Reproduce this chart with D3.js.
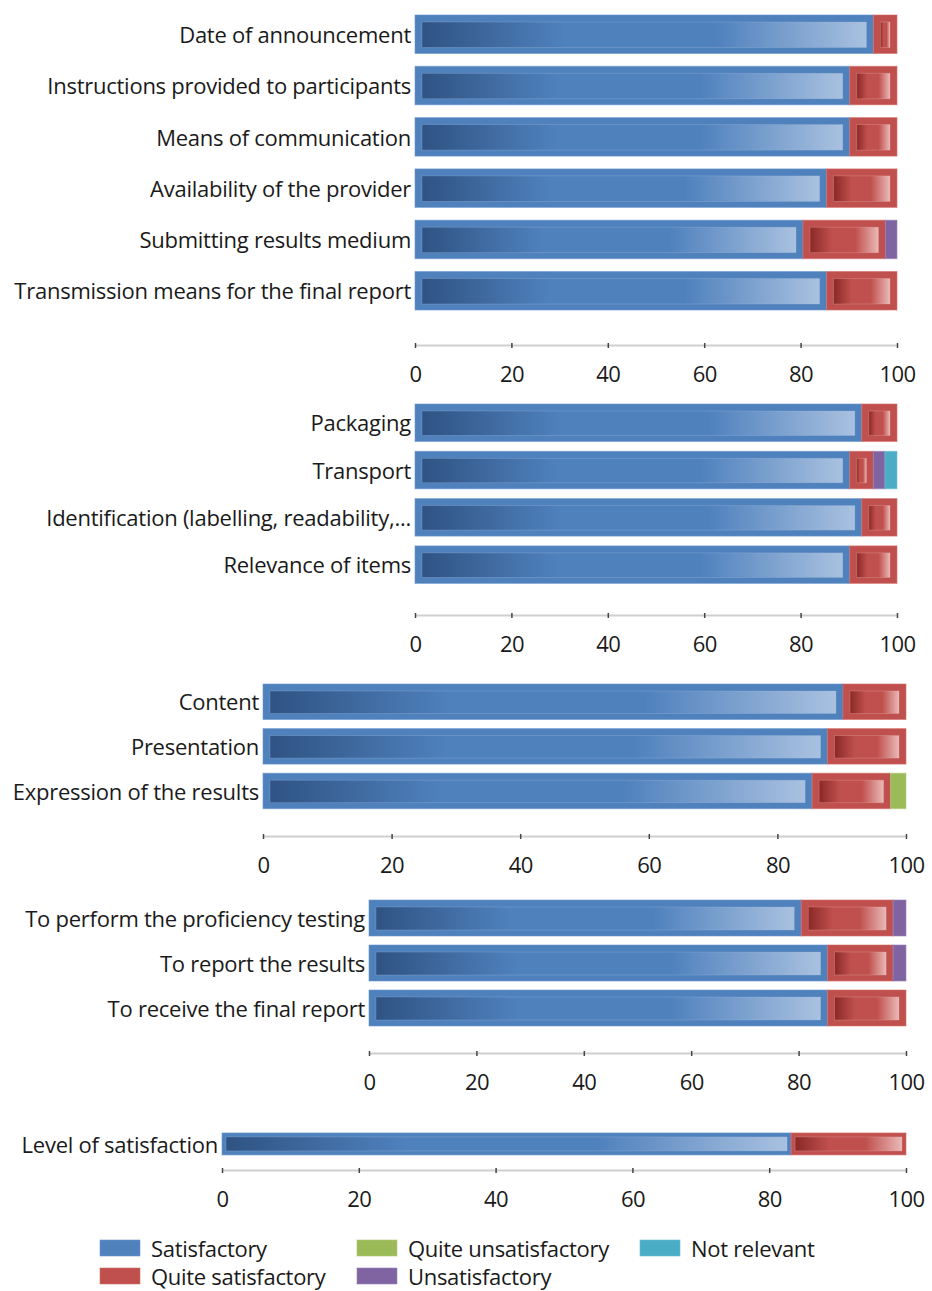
<!DOCTYPE html>
<html>
<head>
<meta charset="utf-8">
<script src="https://cdn.jsdelivr.net/npm/d3@7"></script>
<style>
  html, body { margin: 0; padding: 0; background: #ffffff; }
  svg { display: block; }
  text { font-family: "Open Sans", "Noto Sans", sans-serif; fill: #1a1a1a; }
</style>
</head>
<body>
<svg id="chart" width="932" height="1291"></svg>
<script>
// Response categories, in stacking order
const seriesNames = ["Satisfactory", "Quite satisfactory", "Quite unsatisfactory", "Unsatisfactory", "Not relevant"];
const seriesKeys = ["sat", "qsat", "qunsat", "unsat", "nr"];

// Each row: [Satisfactory, Quite satisfactory, Quite unsatisfactory, Unsatisfactory, Not relevant] in %
const organisationCategories = [
  "Date of announcement",
  "Instructions provided to participants",
  "Means of communication",
  "Availability of the provider",
  "Submitting results medium",
  "Transmission means for the final report"
];
const organisationValues = [
  [95.1, 4.9, 0, 0, 0],
  [90.2, 9.8, 0, 0, 0],
  [90.2, 9.8, 0, 0, 0],
  [85.4, 14.6, 0, 0, 0],
  [80.5, 17.1, 0, 2.4, 0],
  [85.4, 14.6, 0, 0, 0]
];

const itemsCategories = [
  "Packaging",
  "Transport",
  "Identification (labelling, readability,...",
  "Relevance of items"
];
const itemsValues = [
  [92.7, 7.3, 0, 0, 0],
  [90.2, 4.9, 0, 2.4, 2.5],
  [92.7, 7.3, 0, 0, 0],
  [90.2, 9.8, 0, 0, 0]
];

const reportCategories = ["Content", "Presentation", "Expression of the results"];
const reportValues = [
  [90.2, 9.8, 0, 0, 0],
  [87.8, 12.2, 0, 0, 0],
  [85.4, 12.2, 2.4, 0, 0]
];

const websiteCategories = [
  "To perform the proficiency testing",
  "To report the results",
  "To receive the final report"
];
const websiteValues = [
  [80.5, 17.1, 0, 2.4, 0],
  [85.4, 12.2, 0, 2.4, 0],
  [85.4, 14.6, 0, 0, 0]
];

const overallCategories = ["Level of satisfaction"];
const overallValues = [
  [83.2, 16.8, 0, 0, 0]
];

const tickValues = [0, 20, 40, 60, 80, 100];

// ---- styling and layout ----
const colors = {
  sat:    { base: "#4f81bd", dark: "#2f5383", light: "#a9c1e0", edge: "#6c98cf" },
  qsat:   { base: "#c0504d", dark: "#8a2927", light: "#e9b9b7", edge: "#d3706d" },
  qunsat: { base: "#9bbb59", dark: "#6b8a34", light: "#cfe0ab", edge: "#b0cc78" },
  unsat:  { base: "#8064a2", dark: "#574276", light: "#c0b0d4", edge: "#9a82b9" },
  nr:     { base: "#4bacc6", dark: "#2b7b91", light: "#a9dbe8", edge: "#6fc0d6" }
};

const panels = [
  { cats: organisationCategories, values: organisationValues, x0: 415, x1: 897, top: 15,   pitch: 51.3, barH: 38.5, axisY: 345 },
  { cats: itemsCategories,        values: itemsValues,        x0: 415, x1: 897, top: 404,  pitch: 47.3, barH: 37.5, axisY: 615 },
  { cats: reportCategories,       values: reportValues,       x0: 263, x1: 906, top: 684,  pitch: 44.6, barH: 35.5, axisY: 836 },
  { cats: websiteCategories,      values: websiteValues,      x0: 369, x1: 906, top: 900,  pitch: 45,   barH: 36,   axisY: 1053 },
  { cats: overallCategories,      values: overallValues,      x0: 222, x1: 906, top: 1130, pitch: 30,   barH: 22,   axisY: 1170 }
];

const svg = d3.select("#chart");
const defs = svg.append("defs");

// Bevelled inner highlight: dark on the left, flat mid tone, light on the right
seriesKeys.forEach(k => {
  const c = colors[k];
  const g = defs.append("linearGradient")
    .attr("id", "grad-" + k)
    .attr("x1", "0%").attr("x2", "100%").attr("y1", "0%").attr("y2", "0%");
  g.append("stop").attr("offset", "0%").attr("stop-color", c.dark);
  g.append("stop").attr("offset", "32%").attr("stop-color", c.base);
  g.append("stop").attr("offset", "66%").attr("stop-color", c.base);
  g.append("stop").attr("offset", "100%").attr("stop-color", c.light);
});

const stack = d3.stack().keys(seriesKeys);

panels.forEach(p => {
  const rows = p.cats.map((cat, i) => {
    const o = { cat };
    seriesKeys.forEach((k, j) => { o[k] = p.values[i][j]; });
    return o;
  });

  const x = d3.scaleLinear().domain([0, 100]).range([p.x0, p.x1]);
  const padIn = (p.pitch - p.barH) / p.pitch;
  const y = d3.scaleBand()
    .domain(p.cats)
    .range([p.top, p.top + p.pitch * (p.cats.length - padIn)])
    .paddingInner(padIn)
    .paddingOuter(0);

  const g = svg.append("g");
  const inset = Math.round(p.barH * 0.19);
  const insetB = Math.round(p.barH * 0.16);

  const layers = stack(rows);
  layers.forEach(layer => {
    const key = layer.key;
    const c = colors[key];
    const lg = g.append("g");
    layer.forEach(seg => {
      const xa = x(seg[0]), xb = x(seg[1]);
      const w = xb - xa;
      if (w <= 0) return;
      const yy = y(seg.data.cat);
      lg.append("rect")
        .attr("x", xa).attr("y", yy)
        .attr("width", w).attr("height", p.barH)
        .attr("fill", c.base)
        .attr("stroke", c.edge).attr("stroke-width", 1).attr("stroke-opacity", 0.6);
      const iw = w - 2 * inset;
      if (iw > 3) {
        lg.append("rect")
          .attr("x", xa + inset).attr("y", yy + inset)
          .attr("width", iw).attr("height", p.barH - inset - insetB)
          .attr("fill", "url(#grad-" + key + ")")
          .attr("stroke", c.light).attr("stroke-width", 0.8).attr("stroke-opacity", 0.35);
      }
    });
  });

  // category labels
  g.append("g").selectAll("text")
    .data(p.cats)
    .join("text")
    .attr("x", p.x0 - 4)
    .attr("y", d => y(d) + p.barH / 2 + 1)
    .attr("dy", "0.35em")
    .attr("text-anchor", "end")
    .style("font-size", "22px")
    .style("letter-spacing", "-0.25px")
    .text(d => d);

  // value axis
  const axis = d3.axisBottom(x).tickValues(tickValues).tickSizeInner(4).tickSizeOuter(0).tickFormat(d3.format("d"));
  const ag = g.append("g").attr("transform", `translate(0,${p.axisY})`).call(axis);
  ag.select(".domain").attr("stroke", "#cfcfcf").attr("stroke-width", 2);
  ag.selectAll(".tick line").attr("y1", -2).attr("y2", 3).attr("stroke", "#444").attr("stroke-width", 1.5);
  ag.selectAll(".tick text")
    .attr("y", 29).attr("dy", "0.35em")
    .style("font-size", "22px")
    .style("letter-spacing", "-0.6px")
    .style("font-family", "\"Open Sans\", sans-serif")
    .attr("fill", "#1a1a1a");
});

// legend, filled column by column
const legendCols = [100, 357, 640];
const legendRows = [1240, 1268];
const legend = svg.append("g");
seriesKeys.forEach((k, i) => {
  const cx = legendCols[Math.floor(i / 2)];
  const cy = legendRows[i % 2];
  legend.append("rect")
    .attr("x", cx).attr("y", cy)
    .attr("width", 40).attr("height", 16)
    .attr("fill", colors[k].base)
    .attr("stroke", colors[k].edge).attr("stroke-width", 1).attr("stroke-opacity", 0.6);
  legend.append("text")
    .attr("x", cx + 51).attr("y", cy + 9)
    .attr("dy", "0.35em")
    .style("font-size", "22px")
    .style("letter-spacing", "-0.3px")
    .text(seriesNames[i]);
});
</script>
</body>
</html>
